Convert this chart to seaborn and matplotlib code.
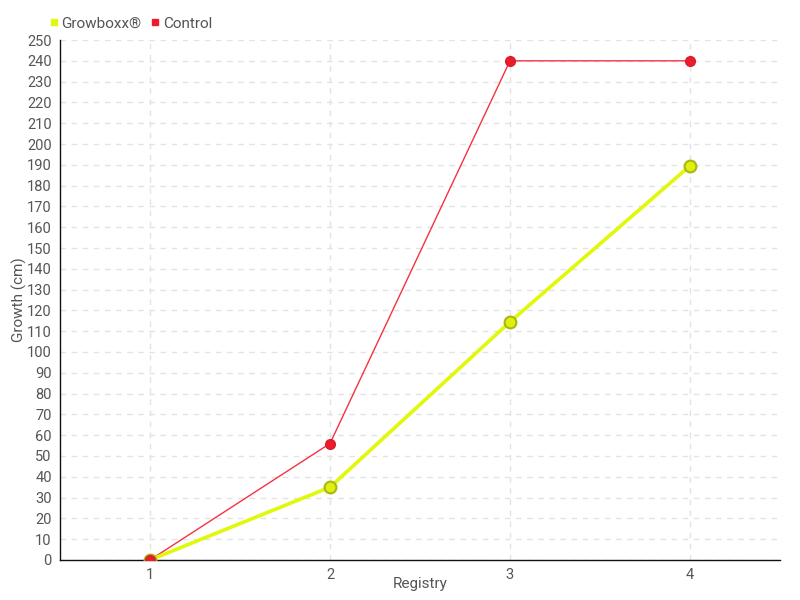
import matplotlib
matplotlib.use("Agg")
import matplotlib.pyplot as plt
import seaborn as sns
import pandas as pd
from matplotlib.lines import Line2D

registry = [1, 2, 3, 4]
growboxx = [0, 35, 114.5, 189.5]
control = [0, 56, 240, 240]
series_names = ["Growboxx®", "Control"]

sns.set_style("white")
plt.rcParams['font.family'] = ['Roboto', 'DejaVu Sans']

df = pd.DataFrame({
    "Registry": registry * 2,
    "Growth": growboxx + control,
    "Series": [series_names[0]] * 4 + [series_names[1]] * 4,
})

fig = plt.figure(figsize=(8, 6), dpi=100)
ax = fig.add_axes([0.075, 0.0667, 0.9, 0.8666])

ax.grid(True, color="#e3e3e3", linestyle=(0, (4, 4)), linewidth=1)
ax.set_axisbelow(True)

# Control (thin red)
sns.lineplot(data=df[df.Series == "Control"], x="Registry", y="Growth", ax=ax,
             color="#f5323f", linewidth=1, marker="o", markersize=7,
             markerfacecolor="#ee1c2a", markeredgecolor="#d81e2a", markeredgewidth=1,
             legend=False, zorder=3)
# Growboxx (thick yellow-green)
sns.lineplot(data=df[df.Series == "Growboxx®"], x="Registry", y="Growth", ax=ax,
             color="#e0f80a", linewidth=2.6, marker="o", markersize=8.5,
             markerfacecolor="#dff00e", markeredgecolor="#a8b812", markeredgewidth=1.5,
             legend=False, zorder=4)
ax.plot([registry[0]], [control[0]], "o", color="#ee1c2a", markersize=7,
        markeredgecolor="#d81e2a", zorder=5)

ax.set_xlim(0.5, 4.5)
ax.set_ylim(0, 250)
ax.set_xticks(registry)
ax.set_yticks(range(0, 251, 10))
ax.tick_params(axis="both", colors="#555555", labelsize=10.5, length=4, width=1,
               direction="out", pad=2)
ax.tick_params(axis="both", color="#222222")
for s in ["top", "right"]:
    ax.spines[s].set_visible(False)
for s in ["left", "bottom"]:
    ax.spines[s].set_color("#111111")
    ax.spines[s].set_linewidth(1)

ax.set_xlabel("Registry", color="#555555", fontsize=11)
ax.set_ylabel("Growth (cm)", color="#555555", fontsize=11)
ax.xaxis.set_label_coords(0.5, -0.032)
ax.yaxis.set_label_coords(-0.046, 0.5)

handles = [Line2D([], [], linestyle="none", marker="s", markersize=5,
                  color="#e0f80a"),
           Line2D([], [], linestyle="none", marker="s", markersize=5,
                  color="#ee1c2a")]
fig.legend(handles, series_names, loc="upper left", bbox_to_anchor=(0.044, 0.995),
           ncol=2, frameon=False, handlelength=0.6, handletextpad=0.2,
           columnspacing=0.6, fontsize=11, labelcolor="#555555")

fig.savefig("out.png", dpi=100)
